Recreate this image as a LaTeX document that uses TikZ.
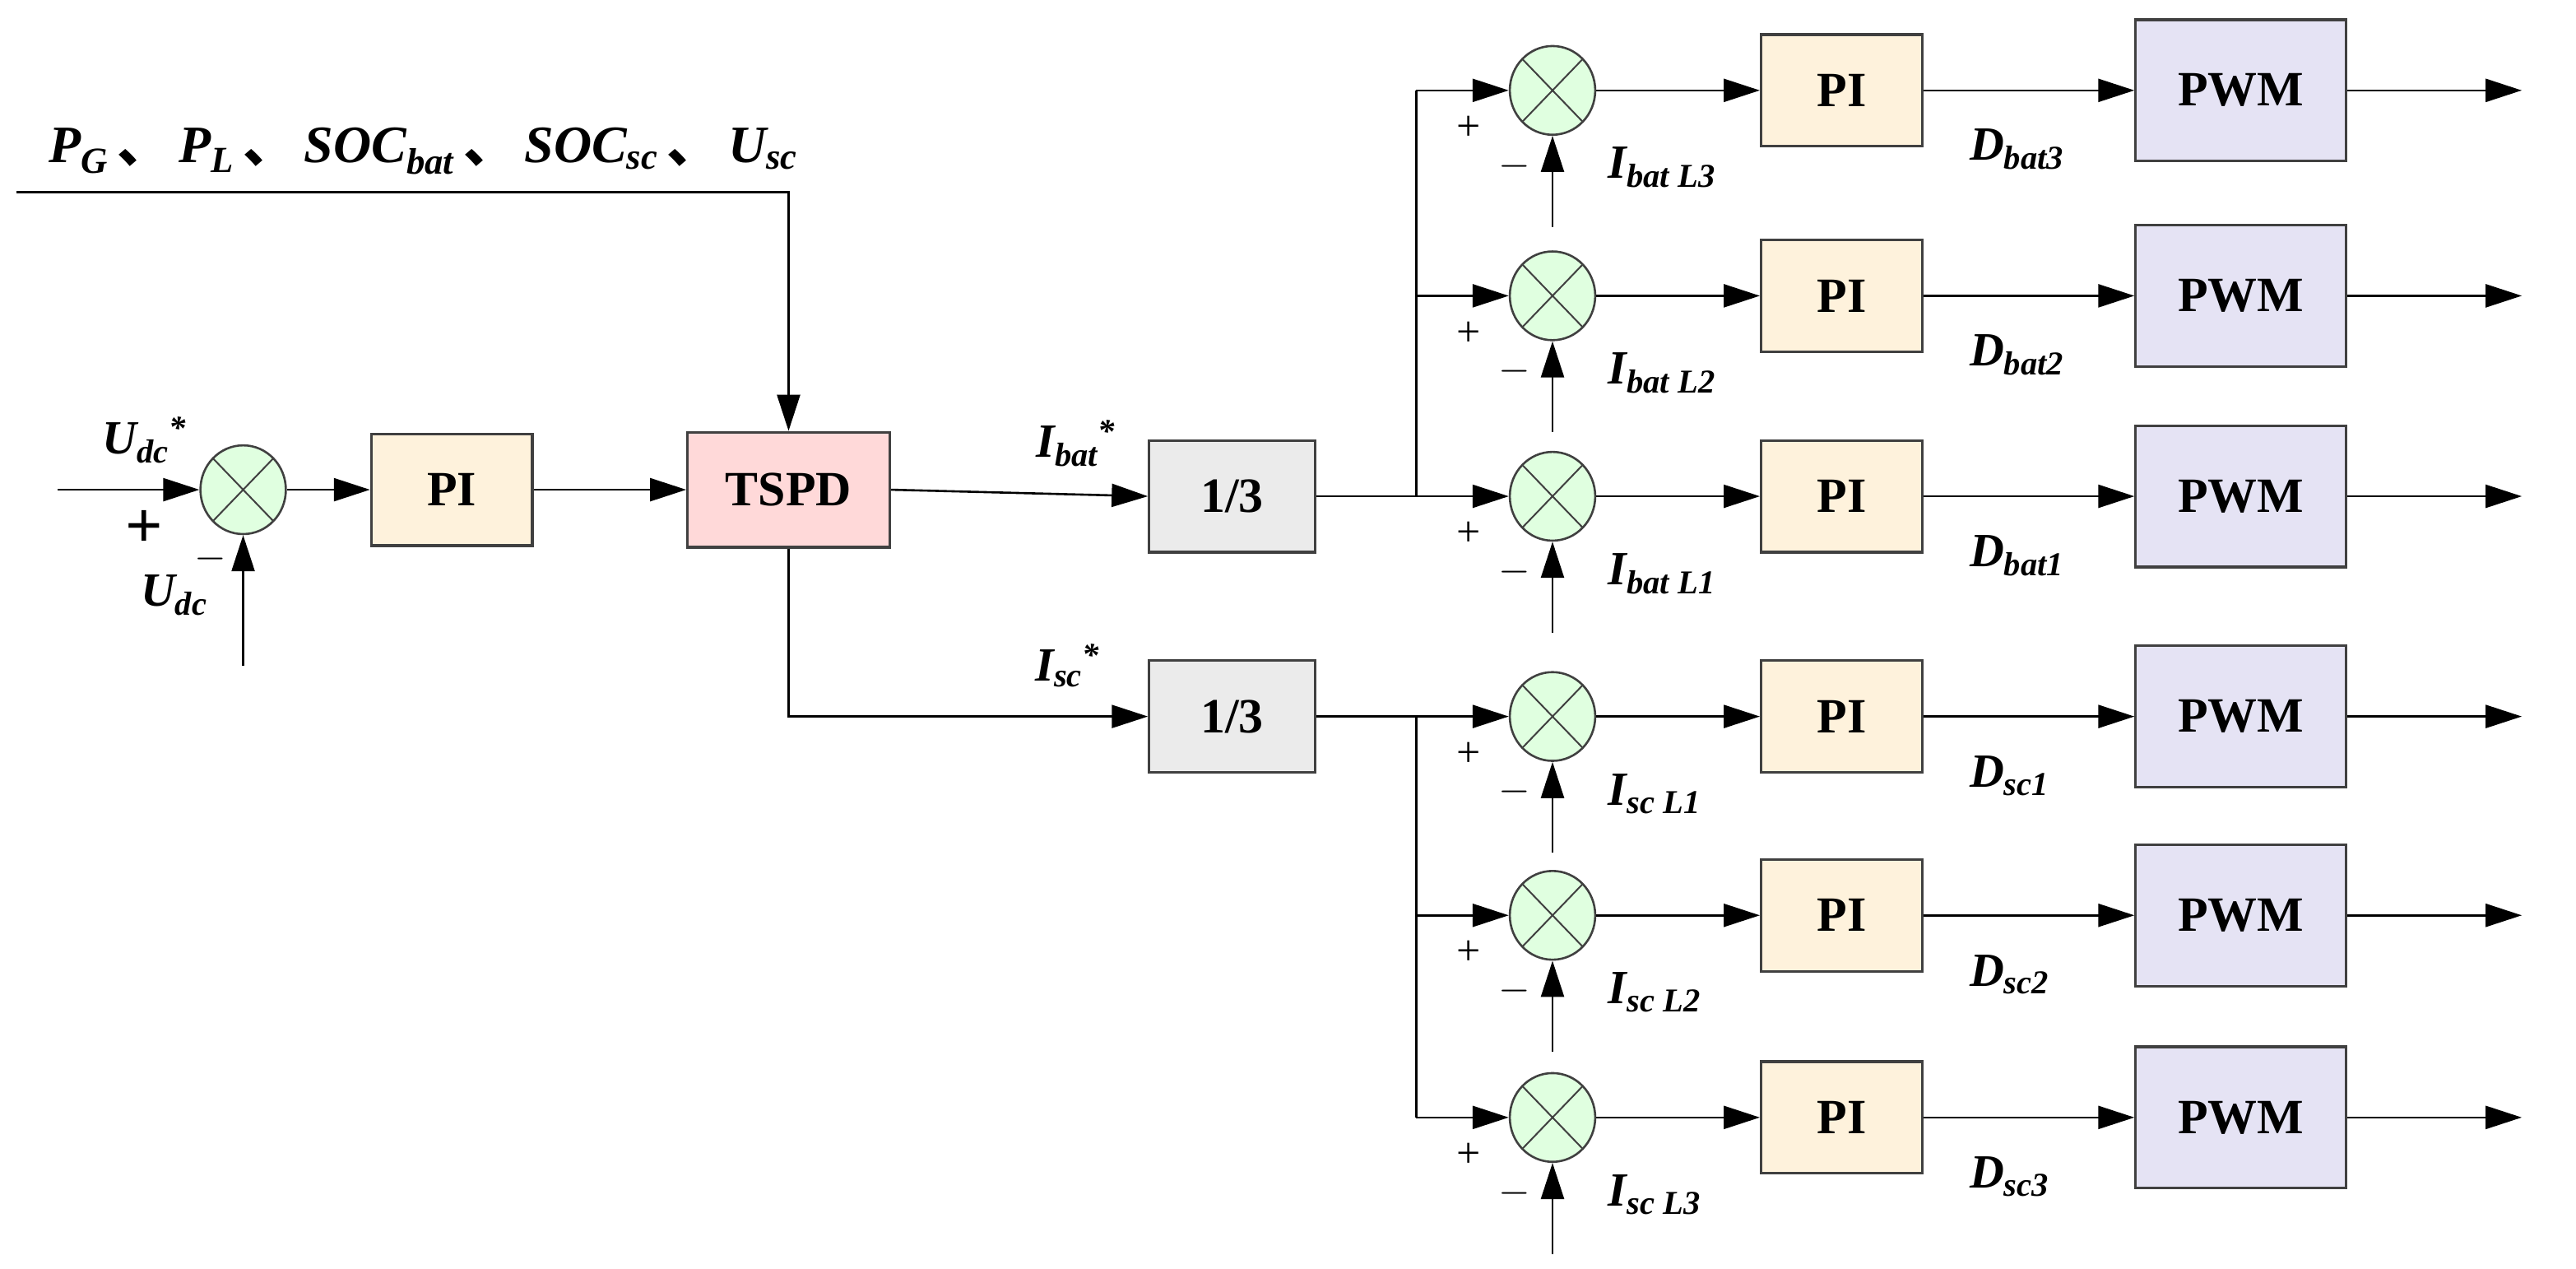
\documentclass[tikz,border=0pt]{standalone}
\usepackage{fontspec}
\setmainfont{Liberation Serif}
\newfontfamily\cjk{Noto Sans CJK SC}
\usetikzlibrary{arrows.meta,shapes.geometric}
\newcommand\lbs[2]{#1\textsubscript{#2}}
\newcommand\dun{\,{\upshape\cjk 、}\,}
\begin{document}
\begin{tikzpicture}[x=1pt,y=-1pt,
  line width=1.3pt,
  >={Triangle[length=22pt,width=14pt]},
  blk/.style={draw=black!75,line width=1.6pt,inner sep=0pt,font=\fontsize{30}{32}\selectfont\bfseries},
  pi/.style={blk,fill=yellow!25!orange!12,minimum width=98pt,minimum height=68pt},
  pwm/.style={blk,fill=cyan!20!blue!10,minimum width=128pt,minimum height=86pt},
  third/.style={blk,fill=black!8,minimum width=101pt,minimum height=68pt},
  sum/.style={draw=black!75,line width=1.3pt,fill=green!12,ellipse,minimum width=52pt,minimum height=54pt,inner sep=0pt,path picture={\draw[line width=1pt] (path picture bounding box.south west)--(path picture bounding box.north east) (path picture bounding box.north west)--(path picture bounding box.south east);}},
  lab/.style={font=\fontsize{29}{30}\selectfont\bfseries\itshape},
  sg/.style={font=\fontsize{26}{28}\selectfont}]
\useasboundingbox (0,0) rectangle (1568,772);
\node[lab,anchor=west,font=\fontsize{32}{34}\selectfont\bfseries\itshape] (top) at (26,92) {\lbs{P}{G}\dun\lbs{P}{L}\dun\lbs{SOC}{bat}\dun\lbs{SOC}{sc}\dun\lbs{U}{sc}};
\node[sum] (s0) at (148,298) {};
\node[pi] (pi0) at (275,298) {PI};
\node[blk,fill=red!15,minimum width=123pt,minimum height=70pt] (tspd) at (480,298) {TSPD};
\node[third] (t1) at (750,302) {1/3};
\node[third] (t2) at (750,436) {1/3};
\coordinate (tl) at (10,117);
\coordinate (in0) at (35,298);
\coordinate (fb0) at (148,405);
\draw[->] (tl) -| (tspd.north);
\draw[->] (in0) -- (s0.west);
\draw[->] (fb0) -- (s0.south);
\draw[->] (s0.east) -- (pi0.west);
\draw[->] (pi0.east) -- (tspd.west);
\draw[->] (tspd.east) -- (t1.west);
\draw[->] (tspd.south) |- (t2.west);
\node[lab] at (88,268) {\lbs{U}{dc}\textsuperscript{*}};
\node[font=\fontsize{40}{40}\selectfont\bfseries] at (88,322) {+};
\node[lab] at (106,362) {\lbs{U}{dc}};
\node[font=\fontsize{34}{34}\selectfont\bfseries] at (128,340) {$-$};
\node[lab] at (655,270) {\lbs{I}{bat}\textsuperscript{*}};
\node[lab] at (650,405) {\lbs{I}{sc}\textsuperscript{*}};
\coordinate (b1) at (862,302);
\coordinate (b2) at (862,436);
\draw (t1.east) -- (b1);
\draw (t2.east) -- (b2);
\foreach \n/\y/\br/\il/\dl in {
  a3/55/b1/{bat L3}/{bat3},
  a2/180/b1/{bat L2}/{bat2},
  a1/302/b1/{bat L1}/{bat1},
  c1/436/b2/{sc L1}/{sc1},
  c2/557/b2/{sc L2}/{sc2},
  c3/680/b2/{sc L3}/{sc3}}{
  \node[sum] (s\n) at (945,\y) {};
  \node[pi] (p\n) at (1121,\y) {PI};
  \node[pwm] (w\n) at (1364,\y) {PWM};
  \coordinate (j\n) at (862,\y);
  \coordinate (f\n) at (945,\y+83);
  \coordinate (o\n) at (1535,\y);
  \draw[->] (j\n) -- (s\n.west);
  \draw (\br) -- (j\n);
  \draw[->] (f\n) -- (s\n.south);
  \draw[->] (s\n.east) -- (p\n.west);
  \draw[->] (p\n.east) -- (w\n.west);
  \draw[->] (w\n.east) -- (o\n);
  \node[sg] at (894,\y+23) {+};
  \node[sg] at (922,\y+46) {$-$};
  \node[lab,anchor=west] at (975,\y+47) {\lbs{I}{\il}};
  \node[lab,anchor=west] at (1195,\y+36) {\lbs{D}{\dl}};
}
\end{tikzpicture}
\end{document}
